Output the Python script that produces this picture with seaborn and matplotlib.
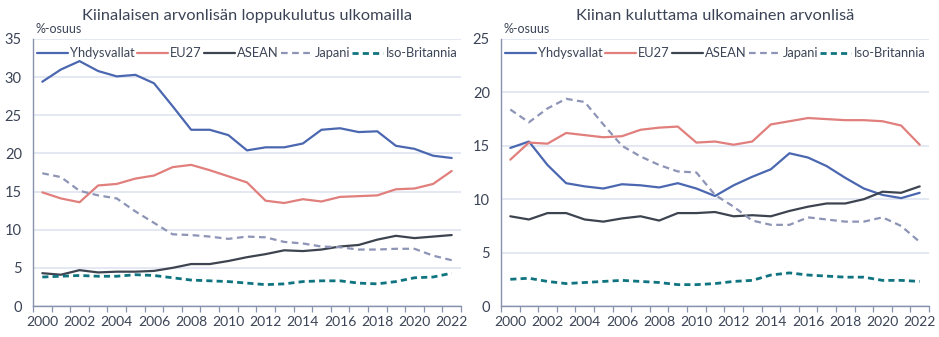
import numpy as np
import pandas as pd
import matplotlib
matplotlib.use("Agg")
import matplotlib.pyplot as plt
import seaborn as sns
from matplotlib.ticker import MultipleLocator, FixedLocator

sns.set_theme(style="white")
plt.rcParams['font.family'] = ['Lato', 'DejaVu Sans']

years = list(range(2000, 2023))
series_names = ["Yhdysvallat", "EU27", "ASEAN", "Japani", "Iso-Britannia"]

# Left chart: Kiinalaisen arvonlisän loppukulutus ulkomailla
left_us = [29.4, 31.0, 32.1, 30.8, 30.1, 30.3, 29.2, 26.2, 23.1, 23.1, 22.4, 20.4,
           20.8, 20.8, 21.3, 23.1, 23.3, 22.8, 22.9, 21.0, 20.6, 19.7, 19.4]
left_eu = [14.9, 14.1, 13.6, 15.8, 16.0, 16.7, 17.1, 18.2, 18.5, 17.8, 17.0, 16.2,
           13.8, 13.5, 14.0, 13.7, 14.3, 14.4, 14.5, 15.3, 15.4, 16.0, 17.7]
left_asean = [4.3, 4.1, 4.7, 4.4, 4.5, 4.5, 4.6, 5.0, 5.5, 5.5, 5.9, 6.4,
              6.8, 7.3, 7.2, 7.4, 7.8, 8.0, 8.7, 9.2, 8.9, 9.1, 9.3]
left_jp = [17.4, 16.9, 15.1, 14.5, 14.1, 12.4, 10.9, 9.4, 9.3, 9.1, 8.8, 9.1,
           9.0, 8.4, 8.2, 7.8, 7.7, 7.4, 7.4, 7.5, 7.5, 6.6, 6.0]
left_uk = [3.8, 3.9, 4.0, 3.9, 3.9, 4.1, 4.0, 3.7, 3.4, 3.3, 3.2, 3.0,
           2.8, 2.9, 3.2, 3.3, 3.3, 3.0, 2.9, 3.2, 3.7, 3.8, 4.3]

# Right chart: Kiinan kuluttama ulkomainen arvonlisä
right_us = [14.8, 15.4, 13.2, 11.5, 11.2, 11.0, 11.4, 11.3, 11.1, 11.5, 11.0, 10.3,
            11.3, 12.1, 12.8, 14.3, 13.9, 13.1, 12.0, 11.0, 10.4, 10.1, 10.6]
right_eu = [13.7, 15.3, 15.2, 16.2, 16.0, 15.8, 15.9, 16.5, 16.7, 16.8, 15.3, 15.4,
            15.1, 15.4, 17.0, 17.3, 17.6, 17.5, 17.4, 17.4, 17.3, 16.9, 15.1]
right_asean = [8.4, 8.1, 8.7, 8.7, 8.1, 7.9, 8.2, 8.4, 8.0, 8.7, 8.7, 8.8,
               8.4, 8.5, 8.4, 8.9, 9.3, 9.6, 9.6, 10.0, 10.7, 10.6, 11.2]
right_jp = [18.4, 17.2, 18.5, 19.4, 19.1, 17.0, 15.0, 14.0, 13.2, 12.6, 12.5, 10.4,
            9.3, 8.0, 7.6, 7.6, 8.3, 8.1, 7.9, 7.9, 8.3, 7.5, 6.0]
right_uk = [2.5, 2.6, 2.3, 2.1, 2.2, 2.3, 2.4, 2.3, 2.2, 2.0, 2.0, 2.1,
            2.3, 2.4, 2.9, 3.1, 2.9, 2.8, 2.7, 2.7, 2.4, 2.4, 2.3]

titles = ["Kiinalaisen arvonlisän loppukulutus ulkomailla",
          "Kiinan kuluttama ulkomainen arvonlisä"]
ylabel_text = "%-osuus"

colors = {"Yhdysvallat": "#4a67b0", "EU27": "#e07f7c", "ASEAN": "#3d4450",
          "Japani": "#8d94b6", "Iso-Britannia": "#0f7480"}
dashes = {"Yhdysvallat": "", "EU27": "", "ASEAN": "", "Japani": (3, 2),
          "Iso-Britannia": (2.2, 1.5)}
widths = {"Yhdysvallat": 1.6, "EU27": 1.6, "ASEAN": 1.6, "Japani": 1.6, "Iso-Britannia": 2.0}

text_color = "#3b4456"
spine_color = "#8a93ad"
grid_color = "#dfe4f0"


def make_df(cols):
    rows = []
    for name, vals in zip(series_names, cols):
        for i, (y, v) in enumerate(zip(years, vals)):
            rows.append({"idx": i, "Vuosi": y, "Maa": name, "Arvo": v})
    return pd.DataFrame(rows)


dfs = [make_df([left_us, left_eu, left_asean, left_jp, left_uk]),
       make_df([right_us, right_eu, right_asean, right_jp, right_uk])]
ymax = [35, 25]

W, H = 939, 337
fig = plt.figure(figsize=(W / 100, H / 100), dpi=100)
ax_pos = [(33, 461), (501, 929)]
y_top, y_bot = 39, 306

for k in range(2):
    x0, x1 = ax_pos[k]
    ax = fig.add_axes([x0 / W, 1 - y_bot / H, (x1 - x0) / W, (y_bot - y_top) / H])
    df = dfs[k]
    sns.lineplot(data=df, x="idx", y="Arvo", hue="Maa", style="Maa",
                 palette=colors, dashes=dashes, hue_order=series_names,
                 style_order=series_names, ax=ax, legend=False)
    for line, name in zip(ax.get_lines(), series_names):
        line.set_linewidth(widths[name])
    ax.set_xlim(-0.5, len(years) - 0.5)
    ax.set_ylim(0, ymax[k])
    ax.yaxis.set_major_locator(MultipleLocator(5))
    ax.set_xticks(list(range(0, len(years), 2)))
    ax.set_xticklabels([str(years[i]) for i in range(0, len(years), 2)])
    ax.xaxis.set_minor_locator(FixedLocator(np.arange(-0.5, len(years), 1)))
    ax.tick_params(axis="x", which="major", length=0, labelsize=10,
                   labelcolor=text_color, pad=7)
    ax.tick_params(axis="x", which="minor", length=4, width=0.9,
                   color=spine_color, direction="out", bottom=True)
    ax.tick_params(axis="y", which="major", length=0, labelsize=10.5,
                   labelcolor=text_color, pad=8)
    ax.grid(axis="y", color=grid_color, linewidth=1.2)
    ax.set_axisbelow(True)
    for s in ["top", "right"]:
        ax.spines[s].set_visible(False)
    for s in ["left", "bottom"]:
        ax.spines[s].set_color(spine_color)
        ax.spines[s].set_linewidth(1.0)
    ax.set_xlabel("")
    ax.set_ylabel("")
    ax.set_title(titles[k], fontsize=11.8, color=text_color, pad=14)
    ax.text(0.005, 1.015, ylabel_text, transform=ax.transAxes, fontsize=9,
            color=text_color, ha="left", va="bottom")
    handles = []
    for name in series_names:
        h, = ax.plot([], [], color=colors[name], linewidth=widths[name])
        if dashes[name]:
            h.set_dashes(dashes[name])
        handles.append(h)
    ax.legend(handles, series_names, loc="upper center", ncol=5, frameon=False,
              fontsize=9.3, labelcolor=text_color, handlelength=2.4,
              handletextpad=0.15, columnspacing=0.2, bbox_to_anchor=(0.5, 1.0),
              borderaxespad=0.25)

fig.savefig("out.png", dpi=100)
